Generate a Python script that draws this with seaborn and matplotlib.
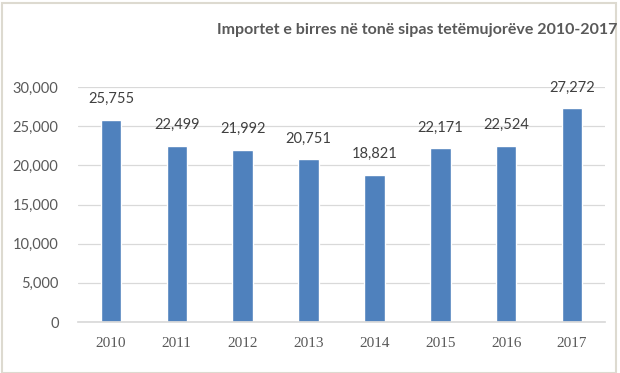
import matplotlib
matplotlib.use("Agg")
import matplotlib.pyplot as plt
import seaborn as sns
import pandas as pd
from matplotlib.ticker import FuncFormatter
from matplotlib.patches import Rectangle

years = ["2010", "2011", "2012", "2013", "2014", "2015", "2016", "2017"]
values = [25755, 22499, 21992, 20751, 18821, 22171, 22524, 27272]

df = pd.DataFrame({"year": years, "value": values})

sns.set_theme(style="white")
plt.rcParams["font.family"] = ["Lato", "DejaVu Sans"]

fig = plt.figure(figsize=(6.2, 3.73), dpi=100)
ax = fig.add_axes([78/620, 1-322/373, (605-78)/620, (322-87)/373])

sns.barplot(data=df, x="year", y="value", color="#4F81BD", width=0.31,
            saturation=1, ax=ax)

ax.set_xlim(-0.5, 7.5)
ax.set_ylim(0, 30000)
ax.set_yticks(range(0, 30001, 5000))
ax.yaxis.set_major_formatter(FuncFormatter(lambda v, p: f"{int(v):,}"))
ax.grid(axis="y", color="#D9D9D9", linewidth=0.9)
ax.set_axisbelow(True)
for s in ["top", "right", "left"]:
    ax.spines[s].set_visible(False)
ax.spines["bottom"].set_color("#D9D9D9")
ax.set_xlabel("")
ax.set_ylabel("")
ax.tick_params(axis="y", length=0, pad=14, labelsize=10.5, labelcolor="#595959")
ax.tick_params(axis="x", length=0, pad=11, labelsize=11, labelcolor="#595959")
for lbl in ax.get_xticklabels():
    lbl.set_fontfamily(["Liberation Serif", "DejaVu Serif"])

for i, v in enumerate(values):
    ax.annotate(f"{v:,}", (i, v), xytext=(0, 10), textcoords="offset points",
                ha="center", va="bottom", fontsize=10.5, color="#404040")

fig.text(617/620, 1-30/373, "Importet e birres në tonë sipas tetëmujorëve 2010-2017",
         ha="right", va="center", fontsize=11.5, fontweight="bold", color="#595959")

fig.patches.append(Rectangle((0.004, 0.0), 0.99, 0.993, transform=fig.transFigure,
                             fill=False, edgecolor="#DDDAD0", linewidth=1.5))

fig.savefig("out.png", dpi=100)
